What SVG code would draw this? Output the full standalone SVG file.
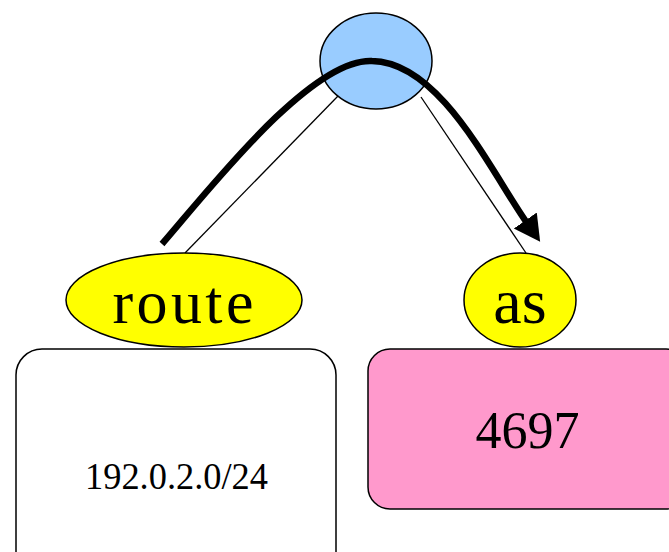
<svg xmlns="http://www.w3.org/2000/svg" width="669" height="552" viewBox="0 0 669 552">
<style>
.n{stroke:#000;stroke-width:1.5}
.t{font-family:"Liberation Serif",serif;fill:#000;text-anchor:middle}
</style>
<defs>
<marker id="ah" markerUnits="userSpaceOnUse" markerWidth="34" markerHeight="34" viewBox="0 0 34 34" refX="3" refY="15" orient="auto">
<path d="M0,1 L26,15 L0,29 Z" fill="#000"/>
</marker>
</defs>
<g id="connectors" fill="none" stroke="#000">
<line x1="185" y1="253" x2="338" y2="96" stroke-width="1.3"/>
<line x1="421" y1="97" x2="526" y2="253" stroke-width="1.3"/>
</g>
<g id="root"><ellipse class="n" cx="376" cy="61" rx="56" ry="48" fill="#99CCFF"/></g>
<g id="route"><ellipse class="n" cx="184" cy="300" rx="118" ry="47" fill="#FFFF00"/><text class="t" x="185" y="323" font-size="62" letter-spacing="4" textLength="145" lengthAdjust="spacing">route</text></g>
<g id="as"><ellipse class="n" cx="520" cy="300" rx="56" ry="47" fill="#FFFF00"/><text class="t" x="520" y="323" font-size="64">as</text></g>
<g id="prefix"><rect class="n" x="16" y="349" width="320" height="230" rx="26" fill="#fff"/><text class="t" x="176.5" y="489" font-size="37" textLength="183" lengthAdjust="spacingAndGlyphs">192.0.2.0/24</text></g>
<g id="asnum"><rect class="n" x="368" y="349" width="320" height="160" rx="22" fill="#FF99CC"/><text class="t" x="527.5" y="448" font-size="52">4697</text></g>
<g id="flow"><path d="M162,244 C205,195 310,58 372,61 C440,62 490,170 527,223" fill="none" stroke="#000" stroke-width="6.5" marker-end="url(#ah)"/></g>
</svg>
